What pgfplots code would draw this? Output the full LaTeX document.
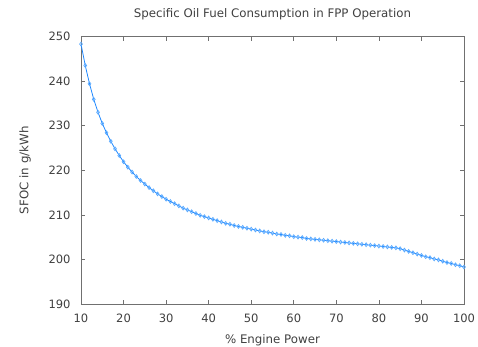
\documentclass[border=0pt]{standalone}
\usepackage{pgfplots}
\pgfplotsset{compat=1.18}
\usepackage{fontspec}
\setmainfont{DejaVu Sans}
\definecolor{txt}{HTML}{404040}
\definecolor{axc}{HTML}{707070}
\definecolor{ln}{HTML}{1E88FF}
\definecolor{mk}{HTML}{5AAAFF}
\begin{document}
\begin{tikzpicture}
\path[use as bounding box] (-81bp,-43bp) rectangle (397bp,304bp);
\begin{axis}[
  scale only axis, width=383bp, height=267.5bp,
  xmin=10, xmax=100, ymin=190, ymax=250,
  xtick={10,20,...,100}, ytick={190,200,...,250},
  tick align=inside, major tick length=4bp,
  axis line style={axc, line width=0.8pt},
  tick style={axc, line width=0.6pt},
  every tick label/.append style={font=\fontsize{11.5bp}{13bp}\selectfont, text=txt},
  /pgf/number format/assume math mode=true,
  xticklabel style={anchor=center, yshift=-14bp},
  yticklabel style={anchor=east, xshift=-7bp},
  title={Specific Oil Fuel Consumption in FPP Operation},
  every axis title/.style={at={(axis description cs:0.5,1)}, anchor=center, yshift=22.5bp, text=txt, font=\fontsize{11.8bp}{13bp}\selectfont},
  xlabel={\% Engine Power}, ylabel={SFOC in g/kWh},
  every axis x label/.style={at={(axis description cs:0.5,0)}, anchor=center, yshift=-36bp, text=txt, font=\fontsize{11.8bp}{13bp}\selectfont},
  every axis y label/.style={at={([xshift=-56bp]axis description cs:0,0.5)}, anchor=center, rotate=90, text=txt, font=\fontsize{11.8bp}{13bp}\selectfont},
]
\addplot[color=ln, line width=0.8pt, mark=diamond, mark size=1.9pt,
  mark options={draw=mk, line width=0.7pt, solid}] coordinates {
(10,248.3)(11,243.5)(12,239.4)(13,235.9)(14,233.0)(15,230.5)(16,228.4)(17,226.5)(18,224.8)(19,223.3)
(20,221.9)(21,220.7)(22,219.6)(23,218.6)(24,217.7)(25,216.9)(26,216.1)(27,215.4)(28,214.7)(29,214.1)
(30,213.5)(31,213.0)(32,212.5)(33,212.0)(34,211.5)(35,211.1)(36,210.7)(37,210.3)(38,209.9)(39,209.6)
(40,209.3)(41,209.0)(42,208.7)(43,208.4)(44,208.1)(45,207.9)(46,207.6)(47,207.4)(48,207.2)(49,207.0)
(50,206.8)(51,206.6)(52,206.4)(53,206.2)(54,206.1)(55,205.9)(56,205.7)(57,205.6)(58,205.4)(59,205.3)
(60,205.1)(61,205.0)(62,204.9)(63,204.7)(64,204.6)(65,204.5)(66,204.4)(67,204.3)(68,204.2)(69,204.1)
(70,204.0)(71,203.9)(72,203.8)(73,203.7)(74,203.6)(75,203.5)(76,203.4)(77,203.3)(78,203.2)(79,203.1)
(80,203.0)(81,202.9)(82,202.8)(83,202.7)(84,202.6)(85,202.4)(86,202.1)(87,201.8)(88,201.5)(89,201.2)
(90,200.9)(91,200.6)(92,200.4)(93,200.1)(94,199.9)(95,199.6)(96,199.3)(97,199.1)(98,198.8)(99,198.6)
(100,198.3)};
\end{axis}
\end{tikzpicture}
\end{document}
